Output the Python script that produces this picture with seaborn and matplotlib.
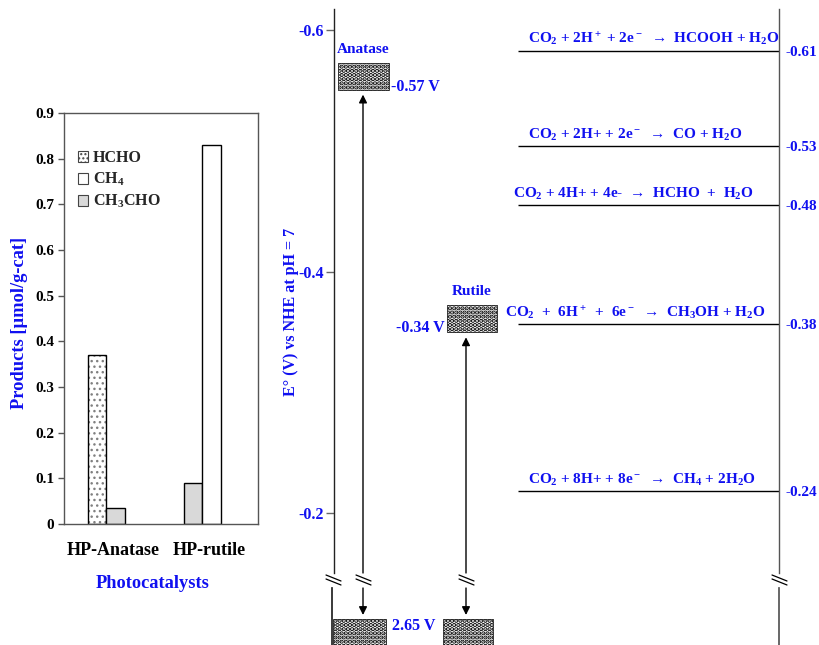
import numpy as np
import pandas as pd
import seaborn as sns
import matplotlib
matplotlib.use("Agg")
import matplotlib.pyplot as plt
from matplotlib.patches import Rectangle, Patch
from matplotlib.lines import Line2D
from matplotlib.transforms import ScaledTranslation

# ---------------- data ----------------
catalysts = ["HP-Anatase", "HP-rutile"]
products = ["HCHO", "CH4", "CH3CHO"]
product_labels = ["HCHO", "CH$_4$", "CH$_3$CHO"]
hcho = [0.37, 0.0]
ch4 = [0.0, 0.83]
ch3cho = [0.035, 0.09]
bar_order = [["HCHO", "CH3CHO"], ["CH3CHO", "CH4"]]
bar_yticks = [0, 0.1, 0.2, 0.3, 0.4, 0.5, 0.6, 0.7, 0.8, 0.9]
bar_yticklabels = ["0", "0.1", "0.2", "0.3", "0.4", "0.5", "0.6", "0.7", "0.8", "0.9"]

# energy diagram
e_ticks = [-0.6, -0.4, -0.2]
e_ticklabels = ["-0.6", "-0.4", "-0.2"]
semis = ["Anatase", "Rutile"]
cb_drawn = [-0.573, -0.372]          # conduction band box tops
cb_labels = ["-0.57 V", "-0.34 V"]
vb_drawn = [2.65, 2.65]
vb_label = "2.65 V"
reaction_E = [-0.61, -0.53, -0.48, -0.38, -0.24]
reaction_E_labels = ["-0.61", "-0.53", "-0.48", "-0.38", "-0.24"]
reactions = [
    "CO$_2$ + 2H$^+$ + 2e$^-$  \u2192  HCOOH + H$_2$O",
    "CO$_2$ + 2H+ + 2e$^-$  \u2192  CO + H$_2$O",
    "CO$_2$ + 4H+ + 4e-  \u2192  HCHO  +  H$_2$O",
    "CO$_2$  +  6H$^+$  +  6e$^-$  \u2192  CH$_3$OH + H$_2$O",
    "CO$_2$ + 8H+ + 8e$^-$  \u2192  CH$_4$ + 2H$_2$O",
]

df = pd.DataFrame({"catalyst": np.repeat(catalysts, 3),
                   "product": products * 2,
                   "value": [hcho[0], ch4[0], ch3cho[0], hcho[1], ch4[1], ch3cho[1]]})

# ---------------- style ----------------
sns.set_theme(style="white")
plt.rcParams["font.family"] = ["Liberation Serif", "DejaVu Serif"]
plt.rcParams["font.weight"] = "bold"
plt.rcParams["mathtext.fontset"] = "custom"
plt.rcParams["mathtext.rm"] = "Liberation Serif:bold"
plt.rcParams["mathtext.it"] = "Liberation Serif:bold"
plt.rcParams["mathtext.bf"] = "Liberation Serif:bold"
plt.rcParams["mathtext.default"] = "rm"
plt.rcParams["hatch.linewidth"] = 1.0

def hatch_lw(p, lw):
    if hasattr(p, "set_hatch_linewidth"):
        p.set_hatch_linewidth(lw)

BLUE = "#1010F0"
W, H = 819, 645
fig = plt.figure(figsize=(W / 100, H / 100), dpi=100)
fig.patch.set_facecolor("white")

def fx(px):
    return px / W

def fy(py):
    return 1 - py / H

# ---------------- bar chart ----------------
ax = fig.add_axes([fx(64), fy(524), 194 / W, 411 / H])
ax.set_facecolor("white")
bw = 0.19
styles = {
    "HCHO": dict(face="white", hatch="...", hcol="#808080"),
    "CH4": dict(face="white", hatch=None, hcol=None),
    "CH3CHO": dict(face="#d9d9d9", hatch=None, hcol=None),
}
for i, cat in enumerate(catalysts):
    order = bar_order[i]
    n = len(order)
    for j, prod in enumerate(order):
        val = df[(df.catalyst == cat) & (df["product"] == prod)]["value"].iloc[0]
        x = i + (j - (n - 1) / 2) * bw
        st = styles[prod]
        if st["hatch"]:
            bars = ax.bar(x, val, width=bw, color=st["face"], hatch=st["hatch"],
                          edgecolor=st["hcol"], linewidth=0)
            for b in bars:
                hatch_lw(b, 1.0)
            ax.bar(x, val, width=bw, fill=False, edgecolor="black", linewidth=1)
        else:
            ax.bar(x, val, width=bw, color=st["face"], edgecolor="black", linewidth=1)

ax.set_xlim(-0.44, 1.58)
ax.set_ylim(0, 0.9)
ax.set_yticks(bar_yticks)
ax.set_yticklabels(bar_yticklabels)
ax.set_xticks([0, 1])
ax.set_xticklabels(catalysts)
ax.tick_params(axis="y", left=True, length=4, width=1, color="#555555",
               labelsize=11, pad=3, labelcolor="black")
ax.tick_params(axis="x", bottom=False, length=0, labelsize=13, pad=13,
               labelcolor="black")
for lab in ax.get_xticklabels():
    lab.set_transform(lab.get_transform() + ScaledTranslation(0.07, 0, fig.dpi_scale_trans))
for s in ax.spines.values():
    s.set_visible(True)
    s.set_color("#555555")
    s.set_linewidth(1)

handles = [
    Patch(facecolor="white", edgecolor="#444444", hatch="....", linewidth=0.8),
    Patch(facecolor="white", edgecolor="#444444", linewidth=0.8),
    Patch(facecolor="#d9d9d9", edgecolor="#444444", linewidth=0.8),
]
leg = ax.legend(handles, product_labels, loc="upper left",
                bbox_to_anchor=(0.07, 0.91), frameon=False, fontsize=11.5,
                handlelength=0.65, handleheight=0.65, handletextpad=0.3,
                labelspacing=0.3, borderaxespad=0, borderpad=0)

fig.text(fx(20), fy(323), "Products [\u00b5mol/g-cat]", rotation=90,
         ha="center", va="center", color=BLUE, fontsize=13.3)
fig.text(fx(153), fy(583), "Photocatalysts", ha="center", va="center",
         color=BLUE, fontsize=13.2)

# ---------------- energy diagram (upper part) ----------------
ax_u = fig.add_axes([fx(334), fy(573), 445 / W, 564 / H])
ax_u.set_facecolor("none")
ax_u.set_xlim(334, 779)
ax_u.set_ylim(-0.6 + (573 - 30) / 1207.5, -0.6 + (9 - 30) / 1207.5)
for k in ["top", "bottom", "right"]:
    ax_u.spines[k].set_visible(False)
ax_u.spines["left"].set_color("#222222")
ax_u.spines["left"].set_linewidth(1)
ax_u.set_xticks([])
ax_u.set_yticks(e_ticks)
ax_u.set_yticklabels(e_ticklabels)
ax_u.tick_params(axis="y", left=True, length=6, width=1, color="#666666",
                 labelsize=11.5, labelcolor=BLUE, pad=1)
fig.text(fx(291), fy(312), "E\u00b0 (V) vs NHE at pH = 7", rotation=90,
         ha="center", va="center", color=BLUE, fontsize=11.5)

ax_r = ax_u.twinx()
ax_r.set_ylim(-0.61 + (573 - 50.7) / 1189.2, -0.61 + (9 - 50.7) / 1189.2)
for k in ["top", "bottom", "left"]:
    ax_r.spines[k].set_visible(False)
ax_r.spines["right"].set_color("#555555")
ax_r.spines["right"].set_linewidth(1)
ax_r.set_yticks(reaction_E)
ax_r.set_yticklabels(reaction_E_labels)
ax_r.tick_params(axis="y", right=True, length=0, labelsize=11,
                 labelcolor=BLUE, pad=5)

text_x = [528, 528, 513, 505, 528]
ax_r.hlines(reaction_E, 518, 779, color="black", linewidth=1)
for e, txt, tx in zip(reaction_E, reactions, text_x):
    ax_r.annotate(txt, xy=(tx, e), xytext=(0, 5), textcoords="offset points",
                  ha="left", va="baseline", color=BLUE, fontsize=11)

BOX_HATCH = "...."
BOX_HLW = 2.2
box_x = [(338, 389), (447, 497)]
box_h = 27 / 1207.5
arrow_x = [363, 466]
for i, s in enumerate(semis):
    x0, x1 = box_x[i]
    r = Rectangle((x0, cb_drawn[i]), x1 - x0, box_h, facecolor="white",
                  edgecolor="black", hatch=BOX_HATCH, linewidth=0.5)
    hatch_lw(r, BOX_HLW)
    ax_u.add_patch(r)
    ax_u.annotate("", xy=(arrow_x[i], cb_drawn[i] + box_h + 5 / 1207.5),
                  xytext=(arrow_x[i], ax_u.get_ylim()[0]),
                  arrowprops=dict(arrowstyle="-|>", color="black", lw=1,
                                  mutation_scale=12, shrinkA=0, shrinkB=0))
    ax_u.text((x0 + x1) / 2, cb_drawn[i] - 7 / 1207.5, s, ha="center",
              va="bottom", color=BLUE, fontsize=11)
ax_u.text(box_x[0][1] + 2, cb_drawn[0] + box_h - 3 / 1207.5, cb_labels[0],
          ha="left", va="center", color=BLUE, fontsize=11.5)
ax_u.text(box_x[1][0] - 2, cb_drawn[1] + box_h - 4 / 1207.5, cb_labels[1],
          ha="right", va="center", color=BLUE, fontsize=11.5)

# ---------------- energy diagram (lower part, after axis break) ----------------
ax_l = fig.add_axes([fx(332), 0, 447 / W, 57 / H])
ax_l.set_facecolor("none")
ax_l.set_xlim(332, 779)
ax_l.set_ylim(2.65 + (645 - 619) / 1207.5, 2.65 + (588 - 619) / 1207.5)
for k in ["top", "bottom"]:
    ax_l.spines[k].set_visible(False)
ax_l.spines["left"].set_color("#222222")
ax_l.spines["right"].set_color("#555555")
ax_l.set_xticks([])
ax_l.set_yticks([])
vb_x = [(333, 386), (443, 493)]
for i in range(2):
    x0, x1 = vb_x[i]
    r = Rectangle((x0, vb_drawn[i]), x1 - x0, 0.05, facecolor="white",
                  edgecolor="black", hatch=BOX_HATCH, linewidth=0.5)
    hatch_lw(r, BOX_HLW)
    ax_l.add_patch(r)
    ax_l.annotate("", xy=(arrow_x[i], vb_drawn[i] - 4 / 1207.5),
                  xytext=(arrow_x[i], ax_l.get_ylim()[1]),
                  arrowprops=dict(arrowstyle="-|>", color="black", lw=1,
                                  mutation_scale=12, shrinkA=0, shrinkB=0))
ax_l.text(414, vb_drawn[0] + 7 / 1207.5, vb_label, ha="center", va="center",
          color=BLUE, fontsize=11.5)

# break marks
for bx in [333, 363, 466, 779]:
    for dy in (0, 4):
        fig.add_artist(Line2D([fx(bx - 7), fx(bx + 8)], [fy(575 + dy), fy(581 + dy)],
                              color="black", linewidth=0.9))

fig.savefig("out.png", dpi=100, facecolor="white")
